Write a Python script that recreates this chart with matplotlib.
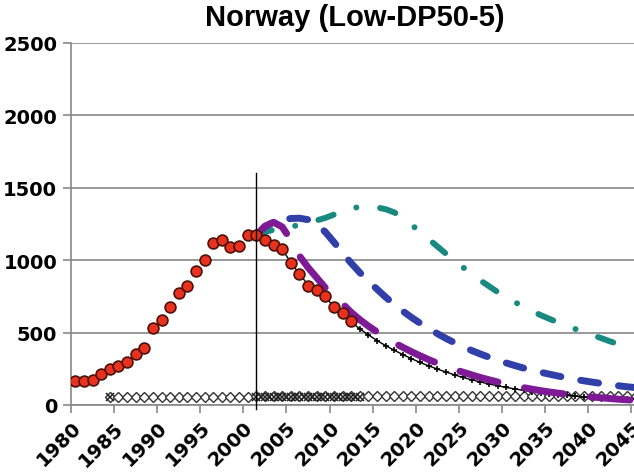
import numpy as np
import matplotlib.pyplot as plt

# historical production (red circles)
hist_years = list(range(1980, 2013))
hist_vals = [168, 164, 172, 212, 249, 272, 300, 350, 396, 532, 587, 674, 773, 824,
             928, 1003, 1119, 1142, 1093, 1096, 1174, 1174, 1142, 1105, 1077, 979,
             904, 824, 793, 750, 679, 635, 580]

fc_years = list(range(2001, 2051))
# base forecast (black line with +)
base_vals = [1174, 1160, 1120, 1075, 985, 905, 830, 790, 745, 680, 630, 575, 525, 485,
             445, 410, 378, 348, 320, 294, 270, 248, 228, 208, 190, 174, 159, 145, 133,
             121, 111, 101, 93, 85, 78, 71, 66, 61, 56, 52, 48, 45, 42, 40, 38,
             36, 34, 32, 30, 29]
# purple long dash
purple_vals = [1174, 1235, 1262, 1230, 1140, 1030, 950, 880, 810, 755, 700, 640, 590,
               545, 505, 465, 430, 398, 368, 340, 313, 289, 266, 245, 226, 208, 190,
               174, 159, 145, 132, 120, 109, 99, 90, 82, 74, 67, 61, 55, 50, 45, 40,
               36, 32, 29, 26, 24, 22, 20]
# blue dash
blue_vals = [1174, 1230, 1262, 1280, 1288, 1290, 1280, 1250, 1195, 1125, 1050, 980,
             915, 855, 800, 745, 695, 648, 605, 565, 528, 493, 460, 430, 402, 376, 352,
             330, 310, 290, 272, 255, 240, 226, 213, 200, 188, 177, 167, 158, 149, 141,
             133, 126, 120, 114, 108, 103, 98, 93]
# teal dash-dot
teal_vals = [1174, 1195, 1210, 1222, 1232, 1243, 1258, 1275, 1292, 1315, 1340, 1358,
             1368, 1370, 1365, 1352, 1330, 1295, 1245, 1195, 1145, 1095, 1045, 995, 950,
             905, 860, 820, 780, 745, 710, 680, 650, 620, 595, 570, 545, 525, 505, 482,
             462, 440, 420, 400, 380, 362, 345, 330, 315, 300]

# low flat series (diamonds) and X markers
dia_years = list(range(1984, 2051))
dia_vals = [58] * 17 + [62] * 50
x_years = [1984, 2001, 2001.5, 2002, 2002.5, 2003, 2003.5, 2004, 2004.5, 2005, 2005.5,
           2006, 2006.5, 2007, 2007.5, 2008, 2008.5, 2009, 2009.5, 2010, 2010.5, 2011,
           2011.5, 2012, 2012.5, 2013]
x_vals = [58] * len(x_years)

tick_years = list(range(1980, 2050, 5))

fig = plt.figure(figsize=(6.34, 4.77), dpi=100)
ax = fig.add_axes([71 / 634, 71 / 477, 612 / 634, 362 / 477])

ax.plot(dia_years, dia_vals, color='black', lw=0.9, marker='D', ms=5.5,
        mfc='white', mec='#333333', mew=1.0, zorder=3)
ax.plot(x_years, x_vals, color='#222222', lw=0, marker='x', ms=5.5, mew=1.1, zorder=3)
ax.plot(fc_years, base_vals, color='black', lw=1.0, marker='+', ms=5, mew=1.2, zorder=4)
ax.plot(fc_years, teal_vals, color='#1A8A80', lw=4.3, dashes=(2.7, 4, 0.01, 4),
        dash_capstyle='round', zorder=5)
ax.plot(fc_years, blue_vals, color='#3040A8', lw=5, dashes=(2.6, 2.9),
        dash_capstyle='round', zorder=5)
ax.plot(fc_years, purple_vals, color='#7E1A96', lw=5, dashes=(5.7, 3.9),
        dash_capstyle='round', zorder=5)
ax.plot(hist_years, hist_vals, lw=0, marker='o', ms=7.8, mfc='#E8321E',
        mec='#4a1208', mew=1.2, zorder=6)

ax.plot([2001, 2001], [-25, 1600], color='black', lw=1.0, zorder=7, clip_on=False)

ax.set_xlim(1979.5, 2050.5)
ax.set_ylim(0, 2500)
ax.set_yticks(range(0, 2501, 500))
ax.set_xticks([y - 0.5 for y in tick_years])
ax.set_xticklabels([str(y) for y in tick_years], rotation=45, ha='right', va='top',
                   rotation_mode='anchor')
for lab in ax.get_xticklabels() + ax.get_yticklabels():
    lab.set_fontfamily('DejaVu Sans')
    lab.set_fontweight('bold')
    lab.set_fontsize(14)
ax.tick_params(axis='both', length=6, color='#888888', width=1.2, pad=4)
ax.tick_params(axis='x', pad=3)

ax.grid(axis='y', color='#888888', lw=1.2)
ax.set_axisbelow(True)
for s in ['top', 'right']:
    ax.spines[s].set_visible(False)
for s in ['left', 'bottom']:
    ax.spines[s].set_color('#888888')
    ax.spines[s].set_linewidth(1.2)

fig.text(355 / 634, 1 - 18 / 477, 'Norway (Low-DP50-5)', ha='center', va='center',
         fontsize=21, fontweight='bold', family='Liberation Sans')

fig.savefig('out.png', dpi=100)
